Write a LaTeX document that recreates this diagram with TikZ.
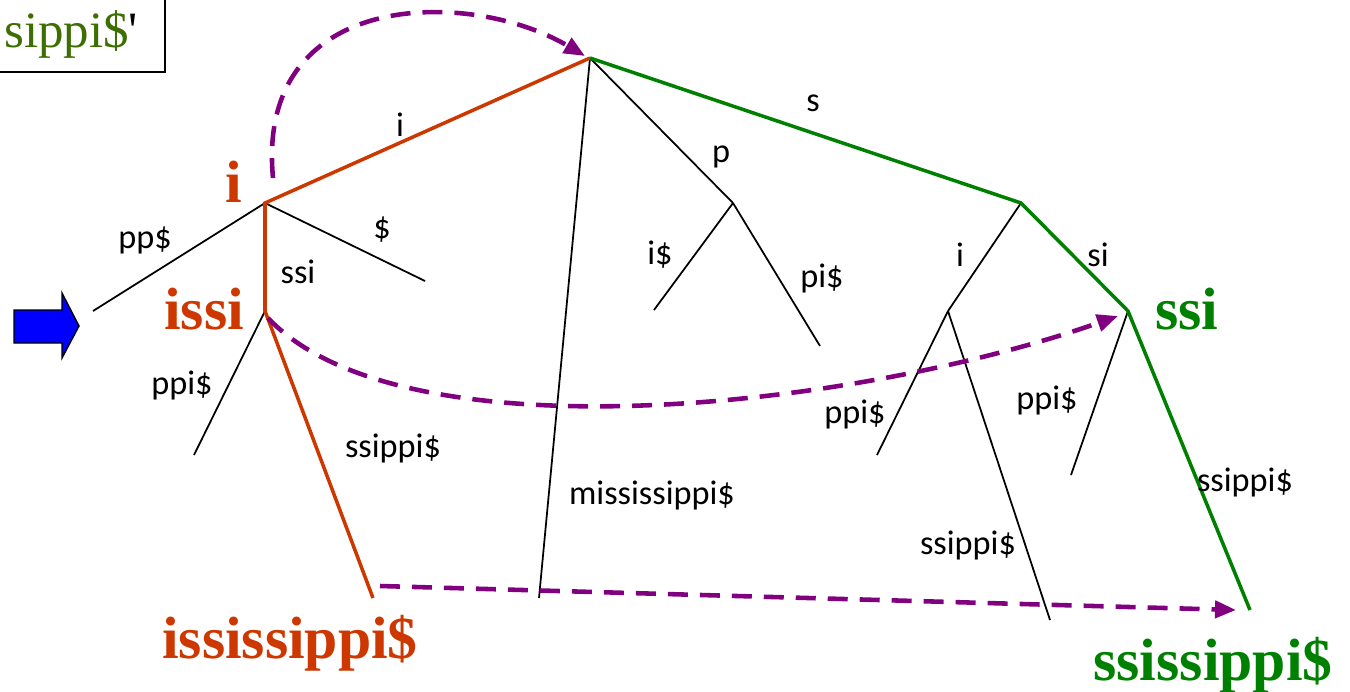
\documentclass[tikz,border=0pt]{standalone}
\usepackage{fontspec}
\setmainfont{Liberation Serif}
\newfontfamily\edgefont{Carlito}
\usetikzlibrary{arrows.meta, positioning, calc}
\definecolor{pathred}{RGB}{204,56,0}
\definecolor{pathgreen}{RGB}{0,128,0}
\definecolor{jumppurple}{RGB}{128,0,128}
\definecolor{oldgreen}{RGB}{60,110,0}
\tikzset{
  edge/.style     = {draw=black, line width=1pt},
  redge/.style    = {draw=pathred, line width=2pt},
  gedge/.style    = {draw=pathgreen, line width=2pt},
  elabel/.style   = {font=\edgefont\fontsize{19.5}{21}\selectfont, inner sep=0pt},
  rlabel/.style   = {font=\bfseries\fontsize{34}{38}\selectfont, text=pathred, inner sep=0pt},
  glabel/.style   = {font=\bfseries\fontsize{34}{38}\selectfont, text=pathgreen, inner sep=0pt},
  jump/.style     = {draw=jumppurple, line width=2.6pt, dash pattern=on 0.4cm off 0.24cm,
                     -{Triangle[length=0.42cm, width=0.34cm]}},
}

\begin{document}
\begin{tikzpicture}[x=0.02cm, y=-0.02cm]
  \useasboundingbox (0,0) rectangle (1350,691);

  % partial pattern box, cut by the page edge
  \draw[line width=1.1pt] (-10,-10) rectangle (165,72);
  \node[font=\fontsize{29}{31}\selectfont, text=oldgreen, anchor=west, inner sep=0pt]
    (pat) at (4,34) {sippi\$\textcolor{black}{\textquotesingle}};

  % blue pointer
  \filldraw[fill=blue, draw=black, line width=0.8pt]
    (14,310) -- (62,310) -- (62,293) -- (79,326) -- (62,358) -- (62,343) -- (14,343) -- cycle;

  % tree nodes
  \coordinate (root) at (590,58);
  \coordinate (ni) at (265,203);
  \coordinate (nissi) at (265,311);
  \coordinate (np) at (733,203);
  \coordinate (ns) at (1021,203);
  \coordinate (nsi) at (948,311);
  \coordinate (nssi) at (1128,311);
  % leaves
  \coordinate (lpp) at (93,311);
  \coordinate (ldol) at (425,281);
  \coordinate (lppi) at (194,455);
  \coordinate (lissi) at (373,598);
  \coordinate (lmiss) at (539,598);
  \coordinate (lidol) at (654,310);
  \coordinate (lpidol) at (820,346);
  \coordinate (lsippi) at (877,455);
  \coordinate (lsssippi) at (1050,620);
  \coordinate (ltppi) at (1071,475);
  \coordinate (lssi) at (1250,610);

  % black edges
  \draw[edge] (ni) -- (lpp);
  \draw[edge] (ni) -- (ldol);
  \draw[edge] (nissi) -- (lppi);
  \draw[edge] (root) -- (lmiss);
  \draw[edge] (root) -- (np);
  \draw[edge] (np) -- (lidol);
  \draw[edge] (np) -- (lpidol);
  \draw[edge] (ns) -- (nsi);
  \draw[edge] (nsi) -- (lsippi);
  \draw[edge] (nsi) -- (lsssippi);
  \draw[edge] (nssi) -- (ltppi);

  % highlighted paths
  \draw[redge] (root) -- (ni) -- (nissi) -- (lissi);
  \draw[gedge] (root) -- (ns) -- (nssi) -- (lssi);

  % edge labels
  \node[elabel] (e1) at (400,125) {i};
  \node[elabel] (e2) at (813,103) {s};
  \node[elabel] (e3) at (721,157) {p};
  \node[elabel] (e4) at (145,240) {pp\$};
  \node[elabel] (e5) at (382,230) {\$};
  \node[elabel] (e6) at (298,272) {ssi};
  \node[elabel] (e7) at (660,255) {i\$};
  \node[elabel] (e8) at (822,278) {pi\$};
  \node[elabel] (e9) at (960,255) {i};
  \node[elabel] (e10) at (1098,255) {si};
  \node[elabel] (e11) at (182,385) {ppi\$};
  \node[elabel] (e12) at (393,448) {ssippi\$};
  \node[elabel] (e13) at (652,495) {mississippi\$};
  \node[elabel] (e14) at (855,414) {ppi\$};
  \node[elabel] (e15) at (1047,400) {ppi\$};
  \node[elabel] (e16) at (968,545) {ssippi\$};
  \node[elabel] (e17) at (1245,482) {ssippi\$};

  % node labels
  \node[rlabel] (ti) at (234,182) {i};
  \node[rlabel] (tissi) at (204,309) {issi};
  \node[rlabel] (tissip) at (290,643) {ississippi\$};
  \node[glabel] (tssi) at (1187,309) {ssi};
  \node[glabel] (tssip) at (1213,665) {ssissippi\$};

  % suffix links
  \coordinate (j1a) at (273,178);
  \coordinate (j1b) at (585,56);
  \coordinate (j2a) at (268,318);
  \coordinate (j2b) at (1118,316);
  \coordinate (j3a) at (380,586);
  \coordinate (j3b) at (1236,610);
  \draw[jump] (j1a) .. controls (255,-12) and (470,-12) .. (j1b);
  \draw[jump] (j2a) .. controls (400,458) and (850,410) .. (j2b);
  \draw[jump] (j3a) -- (j3b);
\end{tikzpicture}
\end{document}
